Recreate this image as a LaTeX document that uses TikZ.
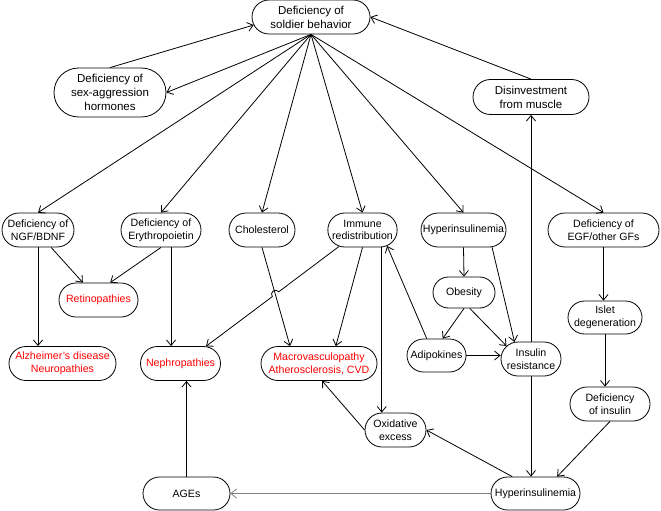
\documentclass[tikz,border=0pt]{standalone}
\usepackage{fontspec}
\setmainfont{Liberation Sans}
\usetikzlibrary{positioning,shapes,arrows.meta}

\begin{document}
\begin{tikzpicture}[x=1pt,y=-1pt,
  blob/.style={draw, rounded rectangle, line width=0.8pt, align=center,
    inner sep=1pt, minimum height=34pt, font=\fontsize{10.6}{12.8}\selectfont},
  bigblob/.style={blob, font=\fontsize{11.5}{14}\selectfont},
  sick/.style={text=red},
  link/.style={-{Straight Barb[length=5.5pt,width=9pt]}, line width=0.8pt},
]

% Page frame (pixel grid, y downwards)
\useasboundingbox (0,0) rectangle (661,511);

% Row positions
\def\rowB{230}
\def\rowD{363.5}
\def\rowF{493.5}

% Top of the tree
\node[bigblob, minimum width=120pt] (soldier) at (311,17) {Deficiency of\\soldier behavior};
\node[bigblob, minimum width=114pt, minimum height=49pt] (sexhorm) at (110,92.5) {Deficiency of\\sex-aggression\\hormones};
\node[bigblob, minimum width=118pt, minimum height=35pt] (muscle) at (531,97) {Disinvestment\\from muscle};

% Second row
\node[blob, minimum width=74pt] (ngf) at (38,\rowB) {Deficiency of\\NGF/BDNF};
\node[blob, minimum width=82pt] (epo) at (161,\rowB) {Deficiency of\\Erythropoietin};
\node[blob, minimum width=68pt] (chol) at (262,\rowB) {Cholesterol};
\node[blob, minimum width=65pt] (immune) at (362.5,\rowB) {Immune\\redistribution};
\node[blob, minimum width=87pt] (hyperA) at (463.5,\rowB) {Hyperinsulinemia};
\node[blob, minimum width=113pt] (egf) at (603.5,\rowB) {Deficiency of\\EGF/other GFs};

% Middle
\node[blob, sick, minimum width=81pt] (retino) at (98.5,300) {Retinopathies};
\node[blob, minimum width=64pt, minimum height=31pt] (obese) at (464,292.5) {Obesity};
\node[blob, minimum width=76pt, minimum height=33pt] (islet) at (605,317.5) {Islet\\degeneration};

% Fourth row
\node[blob, sick, minimum width=109pt] (alz) at (62.5,\rowD) {Alzheimer's disease\\Neuropathies};
\node[blob, sick, minimum width=82pt] (nephro) at (180.5,\rowD) {Nephropathies};
\node[blob, sick, minimum width=118pt] (macro) at (319,\rowD) {Macrovasculopathy\\Atherosclerosis, CVD};
\node[blob, minimum width=61pt, minimum height=33pt] (adipo) at (436.5,355.5) {Adipokines};
\node[blob, minimum width=62pt] (insres) at (531,359) {Insulin\\resistance};

% Lower part
\node[blob, minimum width=82pt] (insdef) at (610,404) {Deficiency\\of insulin};
\node[blob, minimum width=63pt] (oxid) at (395.5,430) {Oxidative\\excess};
\node[blob, minimum width=89pt, minimum height=33pt] (ages) at (186.5,\rowF) {AGEs};
\node[blob, minimum width=91pt, minimum height=33pt] (hyperB) at (535.5,\rowF) {Hyperinsulinemia};

% Fan out of the top node
\foreach \t in {ngf,epo,chol,immune,hyperA,egf}
  \draw[link] (soldier.south) -- (\t.north);
\draw[link] (soldier.south) -- (sexhorm.east);
\draw[link] (sexhorm.north) -- (soldier.188);
\draw[link] (muscle.north) -- (soldier.east);
\draw[link] (insres.north) -- (muscle.south);

% Left side
\draw[link] (ngf.south) -- (ngf.south |- alz.north);
\draw[link] (ngf.-53) -- (retino.132);
\draw[link] (epo.south) -- (retino.56);
\draw[link] (epo.-60) -- (epo.-60 |- nephro.north);
\draw[link] (chol.south) -- (macro.149);

% Immune -> nephropathies, jumping over the cholesterol line
\coordinate (jumpA) at (278.7,291.8);
\coordinate (jumpB) at (272.3,296.6);
\draw[link] (immune.215) -- (jumpA) arc[start angle=-37, end angle=-217, radius=4] -- (nephro.34);
\draw[link] (immune.south) -- (macro.46);
\draw[link] (immune.-42) -- (immune.-42 |- oxid.north);

% Insulin block
\draw[link] (adipo.120) -- (immune.-33);
\draw[link] (hyperA.south) -- (obese.north);
\draw[link] (hyperA.-31) -- (insres.134);
\draw[link] (obese.south) -- (adipo.70);
\draw[link] (obese.-70) -- (insres.152);
\draw[link] (adipo.east) -- (adipo.east -| insres.west);
\draw[link] (egf.south) -- (egf.south |- islet.north);
\draw[link] (islet.south) -- (islet.south |- insdef.north);
\draw[link] (insdef.south) -- (hyperB.38);
\draw[link] (insres.south) -- (insres.south |- hyperB.north);

% Bottom
\draw[link] (hyperB.144) -- (oxid.east);
\draw[link] (oxid.west) -- (macro.-80);
\draw[link, draw=gray] (hyperB.west) -- (ages.east);
\draw[link] (ages.north) -- (ages.north |- nephro.south);

\end{tikzpicture}
\end{document}
